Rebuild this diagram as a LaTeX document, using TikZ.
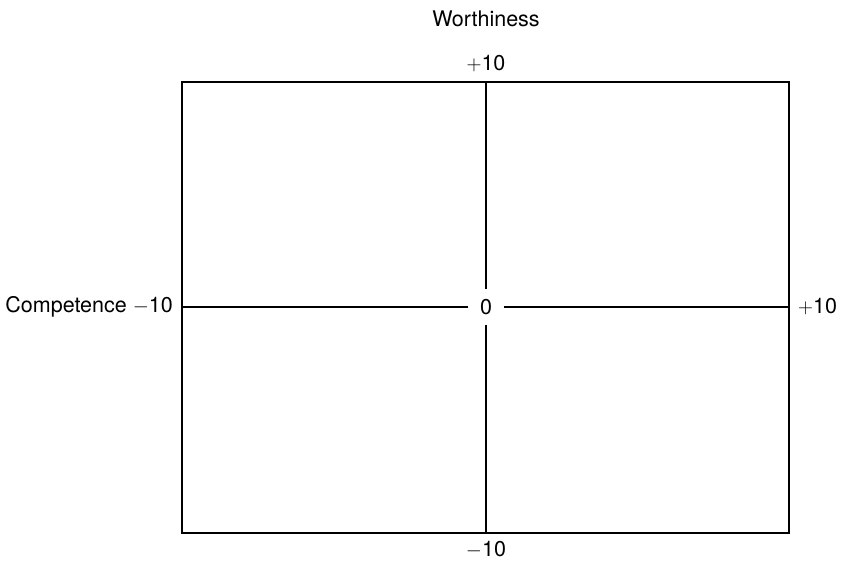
\documentclass[tikz,border=0pt]{standalone}
\usepackage{fontspec}
\setmainfont{TeX Gyre Heros}
\usetikzlibrary{positioning}

\begin{document}
\begin{tikzpicture}[
  x=1pt, y=-1pt,
  lbl/.style={font=\fontsize{21.5}{25}\selectfont, inner sep=0pt},
  axis/.style={line width=2.3pt}
]
\useasboundingbox (0,0) rectangle (843,562);
% frame of the grid
\coordinate (nw) at (182,82);
\coordinate (se) at (789,533);
\coordinate (top) at (486,82);
\coordinate (bottom) at (486,533);
\coordinate (left) at (182,307);
\coordinate (right) at (789,307);
\draw[axis] (nw) rectangle (se);
% centre and axes
\node[lbl, minimum width=35pt, minimum height=36pt] (zero) at (486,307) {0};
\draw[axis] (zero.north) -- (top);
\draw[axis] (zero.south) -- (bottom);
\draw[axis] (zero.west) -- (left);
\draw[axis] (zero.east) -- (right);
% scale labels
\node[lbl, above=10pt of top] (wplus) {$+$10};
\node[lbl, below=8pt of bottom] (wminus) {$-$10};
\node[lbl, left=9pt of left] (cminus) {Competence $-$10};
\node[lbl, right=9pt of right] (cplus) {$+$10};
\node[lbl] (worth) at (486,19) {Worthiness};
\end{tikzpicture}
\end{document}
